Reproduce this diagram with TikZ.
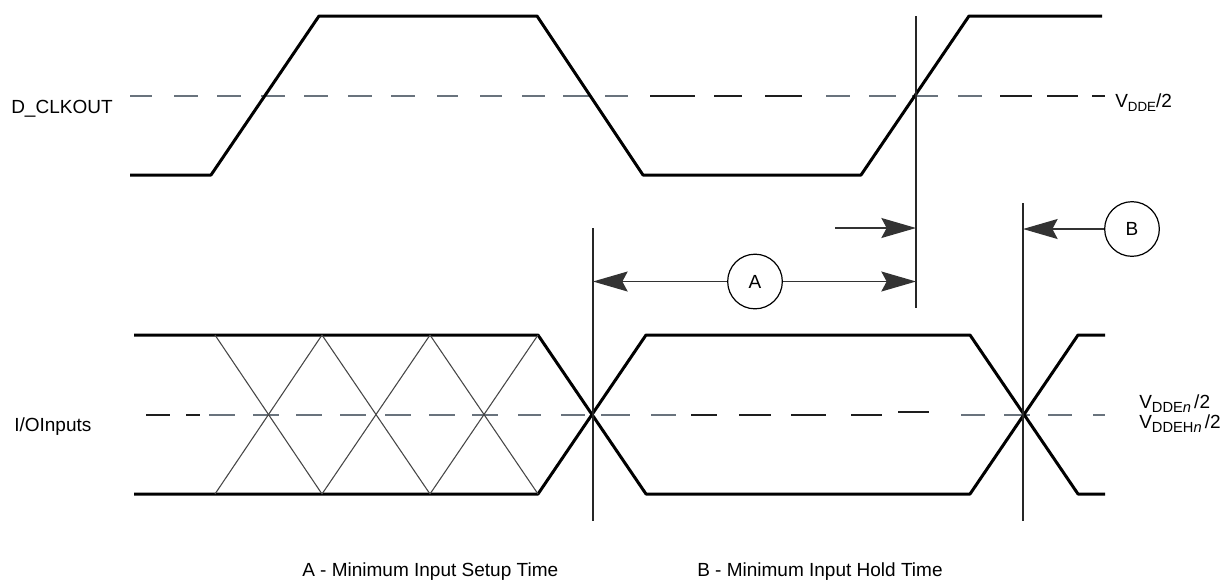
\documentclass[tikz,border=0pt]{standalone}
\usepackage{fontspec}
\setmainfont{Liberation Sans}
\usetikzlibrary{arrows.meta}
\definecolor{dgray}{RGB}{105,115,125}
\definecolor{dblack}{RGB}{30,30,30}
\definecolor{thinc}{RGB}{70,70,70}
\newcommand{\subf}{\fontsize{10pt}{10pt}\selectfont}
\newcommand{\subg}{\fontsize{11pt}{11pt}\selectfont}
\begin{document}
\begin{tikzpicture}[x=0.75pt,y=-0.75pt,
  wave/.style={line width=2.25pt, black, line join=round},
  thinx/.style={line width=0.8pt, thinc},
  vline/.style={line width=1.0pt, black!85},
  gdash/.style={line width=1.6pt, dgray},
  bdash/.style={line width=1.6pt, dblack},
  arr/.style={line width=1.0pt, black!80, -{Stealth[length=26pt,width=15pt,inset=4pt]}},
  lbl/.style={font=\fontsize{14.25pt}{17pt}\selectfont, inner sep=0pt},
  circ/.style={circle, draw, line width=0.9pt, minimum size=41pt, inner sep=0pt, font=\fontsize{14.25pt}{17pt}\selectfont}]
\fill[white] (0,0) rectangle (1227,583);
\useasboundingbox (0,0) rectangle (1227,583);

% dashed reference lines
\foreach \a/\b in {130/152,174/198,217/241,261/285,304/328,348/372,391/415,437/458,480/502,522/545,563/589,605/628,826/850,869/896,912/938,958/982}
  \draw[gdash] (\a,96) -- (\b,96);
\foreach \a/\b in {650/695,714/742,765/802,1000/1032,1047/1078,1092/1105}
  \draw[bdash] (\a,96) -- (\b,96);
\foreach \a/\b in {209/235,253/279,296/322,340/366,385/411,429/455,472/498,518/541,561/585,601/630,651/676,961/985,1004/1030,1048/1072,1093/1105}
  \draw[gdash] (\a,415) -- (\b,415);
\foreach \a/\b in {146/170,186/200,691/717,739/771,791/826,851/882}
  \draw[bdash] (\a,415) -- (\b,415);
\draw[bdash] (898,412) -- (929,412);

% D_CLKOUT waveform
\draw[wave] (130,175) -- (211,175) -- (319,16) -- (537,16) -- (643,175) -- (861,175) -- (969,16) -- (1102,16);

% I/O inputs waveform
\draw[wave] (134,335) -- (538,335) -- (646,494) -- (970,494) -- (1078,335) -- (1105,335);
\draw[wave] (134,494) -- (538,494) -- (646,335) -- (970,335) -- (1078,494) -- (1105,494);
\foreach \a/\b in {215/322,322/430,430/538}{
  \draw[thinx] (\a,335) -- (\b,494);
  \draw[thinx] (\a,494) -- (\b,335);
}

% vertical reference lines
\coordinate (v1t) at (916,16);  \coordinate (v1b) at (916,308);
\coordinate (v2t) at (593,228); \coordinate (v2b) at (593,521);
\coordinate (v3t) at (1023,203);\coordinate (v3b) at (1023,521);
\draw[vline] (v1t) -- (v1b);
\draw[vline] (v2t) -- (v2b);
\draw[vline] (v3t) -- (v3b);

% timing markers
\node[circ] (A) at (755,281.5) {A};
\node[circ] (B) at (1132,229) {B};
\coordinate (aL) at (593,281.5);
\coordinate (aR) at (916,281.5);
\coordinate (s1) at (835,228);
\coordinate (s2) at (916,228);
\coordinate (bL) at (1023,229);
\draw[arr] (A) -- (aL);
\draw[arr] (A) -- (aR);
\draw[arr] (s1) -- (s2);
\draw[arr] (B) -- (bL);

% labels
\node[lbl, anchor=base west] (dclk) at (11,113) {D\_CLKOUT};
\node[lbl, anchor=base west] (io) at (14,431) {I/OInputs};
\node[lbl, anchor=base west] (vdde) at (1115,107) {V\raisebox{-3.4pt}{\subf DDE}/2};
\node[lbl, anchor=base west] (vdden) at (1139,408) {V\raisebox{-3.4pt}{\subg DDE\textit{n}}\,/2};
\node[lbl, anchor=base west] (vddehn) at (1139,428) {V\raisebox{-3.4pt}{\subg DDEH\textit{n}}\,/2};
\node[lbl, anchor=base west] (capA) at (302,576) {A - Minimum Input Setup Time};
\node[lbl, anchor=base west] (capB) at (697,576) {B - Minimum Input Hold Time};
\end{tikzpicture}
\end{document}
